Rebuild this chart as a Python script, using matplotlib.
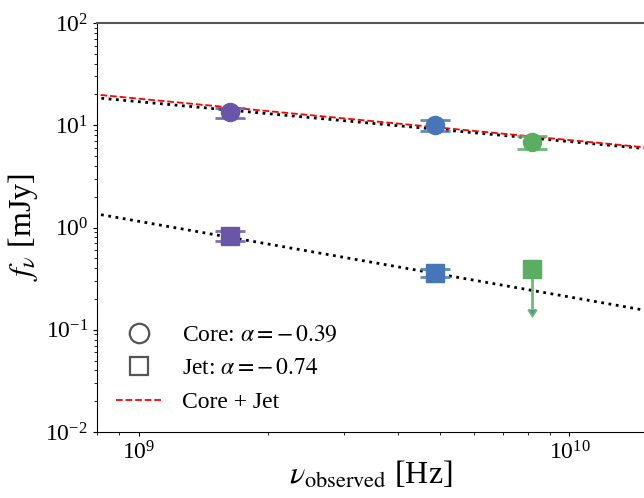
import numpy as np
import matplotlib.pyplot as plt
from matplotlib.lines import Line2D

plt.rcParams['font.family'] = 'serif'
plt.rcParams['font.serif'] = ['Liberation Serif', 'DejaVu Serif']
plt.rcParams['mathtext.fontset'] = 'stix'

# observing frequencies (Hz) and colours per band
freq = [1.63e9, 4.87e9, 8.2e9]
colors = ['#6a56a8', '#4676b8', '#5aae61']

# core flux densities (mJy)
core_flux = [13.4, 10.0, 6.8]
core_err = [1.5, 1.25, 1.0]

# jet flux densities (mJy); last band is an upper limit
jet_flux = [0.83, 0.36, 0.39]
jet_err = [0.1, 0.035, 0.23]
jet_uplim = [False, False, True]

# power-law fits, amplitude at 1 GHz
core_amp, core_alpha = 17.0, -0.39
jet_amp, jet_alpha = 1.15, -0.74
nu_fit = np.array([7e8, 2e10])

fig = plt.figure(figsize=(6.44, 4.98), dpi=100)
ax = fig.add_axes([0.1506, 0.1325, 0.8494, 0.8213])
ax.set_xscale('log')
ax.set_yscale('log')

core_fit = core_amp * (nu_fit / 1e9) ** core_alpha
jet_fit = jet_amp * (nu_fit / 1e9) ** jet_alpha
ax.plot(nu_fit, core_fit, ls=':', color='k', lw=2, zorder=1)
ax.plot(nu_fit, jet_fit, ls=':', color='k', lw=2, zorder=1)
ax.plot(nu_fit, core_fit + jet_fit, ls='--', color='red', lw=1.3, zorder=1)

for i in range(3):
    ax.errorbar(freq[i], core_flux[i], yerr=core_err[i], fmt='none',
                ecolor=colors[i], elinewidth=2, capsize=10.5, capthick=2,
                alpha=0.85, zorder=2)
    ax.plot(freq[i], core_flux[i], 'o', color=colors[i], ms=13, zorder=3)
    ax.errorbar(freq[i], jet_flux[i], yerr=jet_err[i], uplims=jet_uplim[i],
                fmt='none', ecolor=colors[i], elinewidth=2,
                capsize=0 if jet_uplim[i] else 10.5, capthick=2,
                alpha=0.85, zorder=2)
    ax.plot(freq[i], jet_flux[i], 's', color=colors[i], ms=12.5, zorder=3)

ax.set_xlim(8e8, 1.49e10)
ax.set_ylim(1e-2, 1e2)

ax.spines['right'].set_visible(False)
ax.spines['top'].set_color('#555555')
ax.spines['top'].set_linewidth(1.5)
ax.tick_params(which='major', length=3, width=0.8, labelsize=17)
ax.tick_params(which='minor', length=2, width=0.6)

ax.set_xlabel(r'$\nu_{\rm observed}$ [Hz]', fontsize=23, labelpad=-3)
ax.set_ylabel(r'$f_\nu$ [mJy]', fontsize=23)

handles = [
    Line2D([], [], marker='o', ls='none', mfc='none', mec='#555555', ms=14, mew=1.6),
    Line2D([], [], marker='s', ls='none', mfc='none', mec='#555555', ms=13, mew=1.6),
    Line2D([], [], ls='--', color='red', lw=1.3),
]
labels = [r'Core: $\alpha = -\,0.39$', r'Jet: $\alpha = -\,0.74$', 'Core + Jet']
ax.legend(handles, labels, loc='lower left', frameon=False, fontsize=17,
          handlelength=2.0, labelspacing=0.5, bbox_to_anchor=(-0.005, -0.005))

fig.savefig('out.png', dpi=100)
